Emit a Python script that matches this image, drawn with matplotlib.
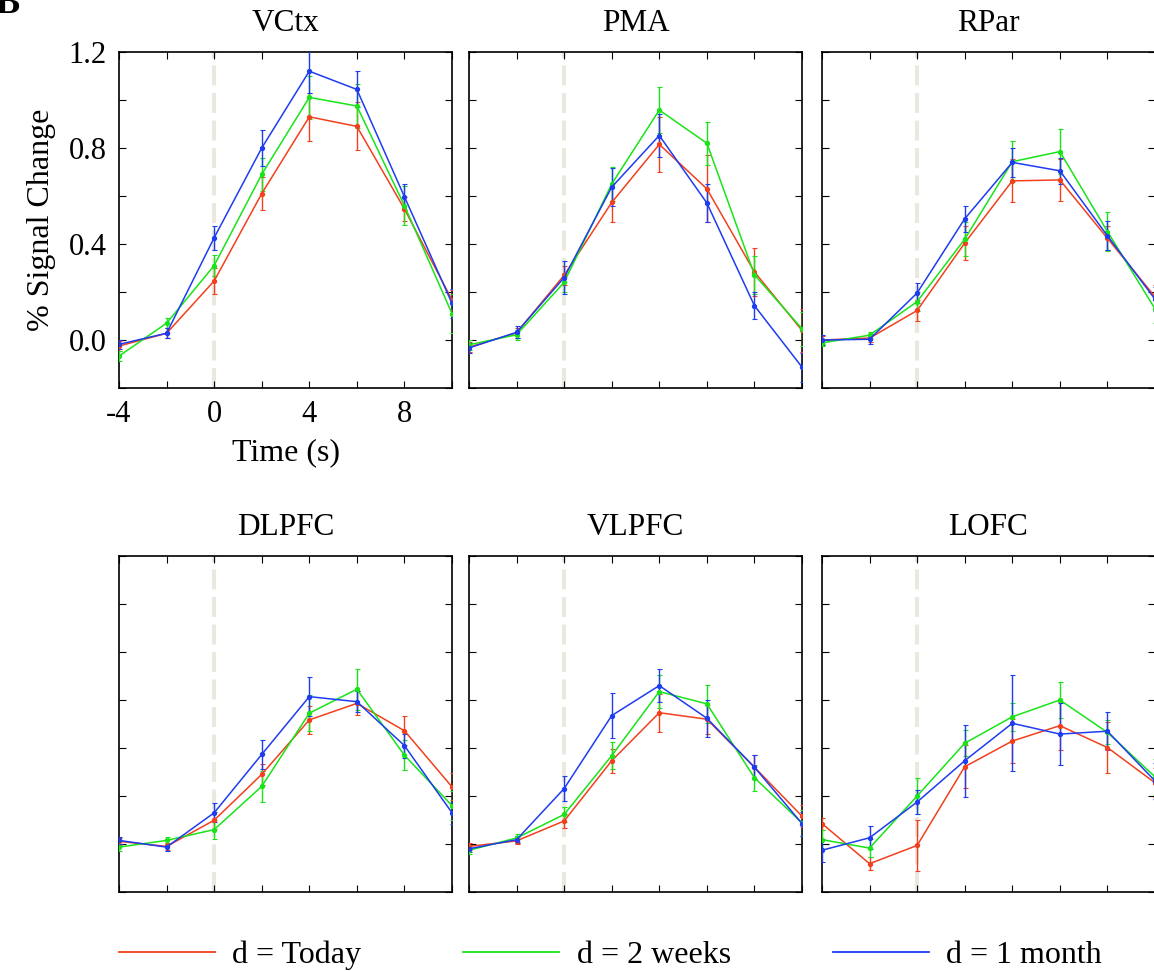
import matplotlib.pyplot as plt
from matplotlib.lines import Line2D

time_s = [-4, -2, 0, 2, 4, 6, 8, 10]
regions = ["VCtx", "PMA", "RPar", "DLPFC", "VLPFC", "LOFC"]
labels = ["d = Today", "d = 2 weeks", "d = 1 month"]
colors = ["#f2401e", "#18e418", "#1e3cf0"]

# mean % signal change per delay (today, 2 weeks, 1 month)
vctx_mean = [[-0.025, 0.028, 0.246, 0.61, 0.93, 0.89, 0.546, 0.167],
             [-0.067, 0.07, 0.31, 0.69, 1.011, 0.975, 0.56, 0.11],
             [-0.018, 0.028, 0.426, 0.80, 1.12, 1.044, 0.597, 0.153]]
vctx_err = [[0.02, 0.02, 0.054, 0.07, 0.10, 0.10, 0.05, 0.04],
            [0.02, 0.02, 0.045, 0.07, 0.09, 0.09, 0.08, 0.08],
            [0.02, 0.02, 0.05, 0.077, 0.09, 0.075, 0.055, 0.06]]

pma_mean = [[-0.03, 0.03, 0.27, 0.573, 0.815, 0.63, 0.284, 0.04],
            [-0.02, 0.022, 0.24, 0.65, 0.958, 0.82, 0.272, 0.047],
            [-0.033, 0.032, 0.26, 0.637, 0.852, 0.571, 0.143, -0.113]]
pma_err = [[0.02, 0.02, 0.04, 0.08, 0.115, 0.14, 0.10, 0.09],
           [0.02, 0.02, 0.04, 0.07, 0.097, 0.09, 0.08, 0.07],
           [0.02, 0.025, 0.07, 0.08, 0.09, 0.08, 0.055, 0.06]]

rpar_mean = [[0.0, 0.008, 0.123, 0.404, 0.663, 0.667, 0.424, 0.18],
             [-0.012, 0.02, 0.16, 0.42, 0.743, 0.785, 0.452, 0.13],
             [0.0, 0.003, 0.196, 0.505, 0.74, 0.705, 0.434, 0.17]]
rpar_err = [[0.015, 0.015, 0.043, 0.07, 0.09, 0.087, 0.05, 0.05],
            [0.015, 0.015, 0.04, 0.07, 0.085, 0.093, 0.08, 0.06],
            [0.02, 0.02, 0.04, 0.055, 0.06, 0.053, 0.06, 0.05]]

dlpfc_mean = [[0.011, -0.01, 0.099, 0.29, 0.517, 0.586, 0.472, 0.238],
              [-0.013, 0.015, 0.06, 0.24, 0.545, 0.645, 0.37, 0.16],
              [0.015, -0.013, 0.13, 0.373, 0.614, 0.593, 0.41, 0.13]]
dlpfc_err = [[0.015, 0.015, 0.035, 0.043, 0.06, 0.05, 0.06, 0.056],
             [0.015, 0.015, 0.038, 0.063, 0.075, 0.085, 0.062, 0.06],
             [0.015, 0.015, 0.04, 0.06, 0.08, 0.045, 0.05, 0.047]]

vlpfc_mean = [[-0.01, 0.013, 0.096, 0.347, 0.547, 0.52, 0.32, 0.116],
              [-0.026, 0.025, 0.123, 0.368, 0.635, 0.584, 0.276, 0.088],
              [-0.02, 0.018, 0.231, 0.535, 0.66, 0.524, 0.32, 0.085]]
vlpfc_err = [[0.015, 0.015, 0.03, 0.05, 0.08, 0.06, 0.05, 0.045],
             [0.015, 0.015, 0.03, 0.055, 0.07, 0.08, 0.055, 0.055],
             [0.015, 0.015, 0.053, 0.093, 0.07, 0.077, 0.05, 0.05]]

lofc_mean = [[0.085, -0.082, -0.006, 0.322, 0.429, 0.493, 0.402, 0.255],
             [0.018, -0.017, 0.20, 0.42, 0.53, 0.60, 0.465, 0.28],
             [-0.026, 0.026, 0.175, 0.347, 0.503, 0.458, 0.47, 0.263]]
lofc_err = [[0.025, 0.028, 0.105, 0.09, 0.093, 0.10, 0.105, 0.06],
            [0.04, 0.037, 0.077, 0.053, 0.058, 0.077, 0.05, 0.075],
            [0.048, 0.048, 0.05, 0.15, 0.20, 0.13, 0.08, 0.075]]

means = [vctx_mean, pma_mean, rpar_mean, dlpfc_mean, vlpfc_mean, lofc_mean]
errs = [vctx_err, pma_err, rpar_err, dlpfc_err, vlpfc_err, lofc_err]

plt.rcParams["font.family"] = ["Liberation Serif", "DejaVu Serif"]

W, H = 1154, 971
fig = plt.figure(figsize=(W / 100, H / 100), dpi=100)

lefts = [119, 469, 822]
tops = [52, 556]
aw, ah = 333, 336

for i, region in enumerate(regions):
    row, col = divmod(i, 3)
    left = lefts[col]
    top = tops[row]
    ax = fig.add_axes([left / W, 1 - (top + ah) / H, aw / W, ah / H])

    ax.axvline(0, color="#ebe9df", lw=3, linestyle=(0, (4.8, 1.8)), zorder=1)
    for k in range(3):
        ax.errorbar(time_s, means[i][k], yerr=errs[i][k], color=colors[k],
                    lw=1.1, elinewidth=1.0, capsize=1.8, capthick=0.8,
                    marker="o", markersize=2.8, zorder=3)

    ax.set_xlim(-4, 10)
    ax.set_ylim(-0.2, 1.2)
    ax.set_xticks(range(-4, 11, 2))
    ax.set_yticks([-0.2, 0.0, 0.2, 0.4, 0.6, 0.8, 1.0, 1.2])
    ax.tick_params(direction="in", length=5, width=0.8, top=True, right=True,
                   labelsize=22, pad=9)
    for sp in ax.spines.values():
        sp.set_linewidth(1.2)
    ax.set_title(region, fontsize=22.5, pad=15)

    if i == 0:
        ax.set_xticklabels(["-4", "", "0", "", "4", "", "8", ""])
        ax.set_yticklabels(["", "0.0", "", "0.4", "", "0.8", "", "1.2"])
        ax.set_xlabel("Time (s)", fontsize=23, labelpad=6)
        ax.set_ylabel("% Signal Change", fontsize=23, labelpad=9)
    else:
        ax.set_xticklabels([])
        ax.set_yticklabels([])

fig.text(-0.004, 0.995, "B", fontsize=26, fontweight="bold", va="center")

handles = [Line2D([], [], color=c, lw=1.3) for c in colors]
fig.legend(handles, labels, loc="center", bbox_to_anchor=(0.529, 0.016),
           ncol=3, frameon=False, fontsize=23, handlelength=3.0,
           handletextpad=0.55, columnspacing=3.2)

fig.savefig("out.png", dpi=100)
